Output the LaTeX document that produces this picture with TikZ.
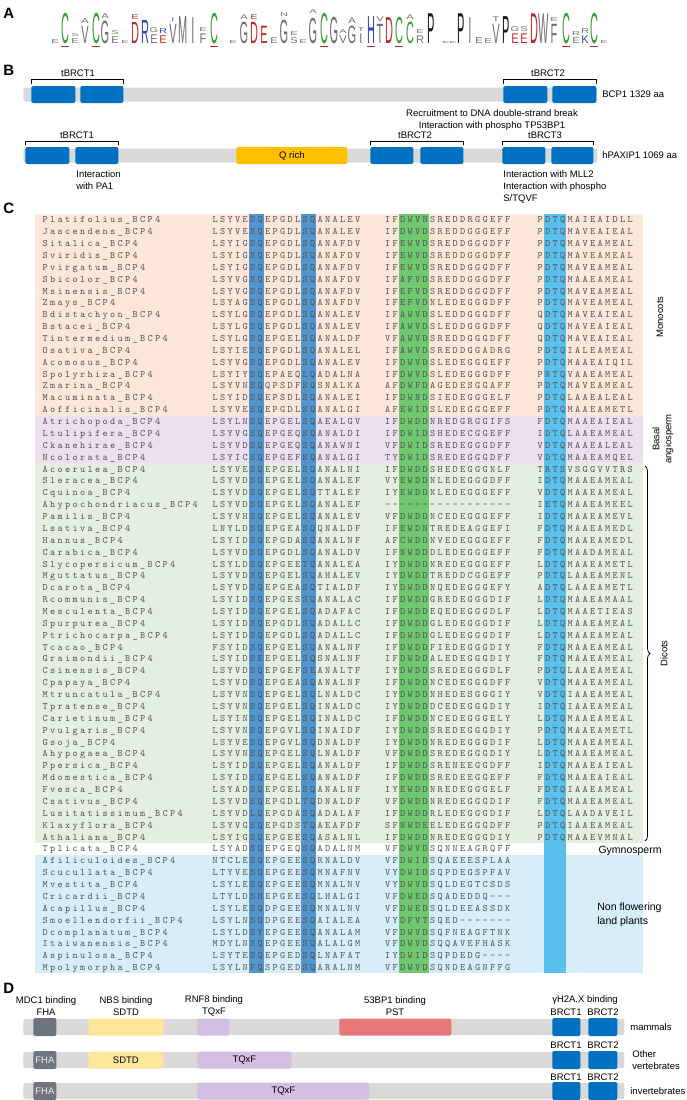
\documentclass[tikz,border=0pt]{standalone}
\usepackage{fontspec}
\newfontfamily\lblfont{Liberation Sans}
\usetikzlibrary{calc,decorations.pathreplacing}

\definecolor{bargray}{RGB}{217,217,217}
\definecolor{brctblue}{RGB}{0,112,192}
\definecolor{qorange}{RGB}{255,192,0}
\definecolor{fhagray}{RGB}{111,117,128}
\definecolor{sdtdyellow}{RGB}{255,230,153}
\definecolor{tqxfpurple}{RGB}{212,190,226}
\definecolor{pstred}{RGB}{232,120,122}
\definecolor{monobg}{RGB}{252,231,218}
\definecolor{basalbg}{RGB}{237,222,240}
\definecolor{dicotbg}{RGB}{229,239,223}
\definecolor{nonflbg}{RGB}{214,238,250}
\definecolor{sqband}{RGB}{82,150,205}
\definecolor{dwband}{RGB}{112,200,112}
\definecolor{dtqband}{RGB}{92,192,236}
\definecolor{seqgray}{RGB}{80,80,80}
\definecolor{lgreen}{RGB}{56,158,56}
\definecolor{lred}{RGB}{200,40,40}
\definecolor{lblue}{RGB}{40,70,190}
\definecolor{lgray}{RGB}{110,110,110}
\definecolor{lblack}{RGB}{25,25,25}

\tikzset{every picture/.style={line width=0.75pt}}
\tikzset{
  lbl/.style={font=\lblfont\fontsize{9.5}{12}\selectfont, inner sep=0pt},
  panel/.style={font=\lblfont\bfseries\fontsize{15}{15}\selectfont, anchor=west, inner sep=0pt},
  bar/.style={fill=bargray, rounded corners=2pt, inner sep=0pt, minimum height=14pt, anchor=west},
  dom/.style={rounded corners=2pt, inner sep=0pt, minimum height=17pt, anchor=west, font=\lblfont\fontsize{9.5}{12}\selectfont},
  brct/.style={dom, fill=brctblue},
  seqtext/.style={anchor=base west, inner sep=0pt, font=\ttfamily\fontsize{9.8}{10}\selectfont, text=seqgray},
  logo/.style={anchor=south, inner sep=0pt, font=\lblfont\fontsize{10}{10}\selectfont}
}

\newlength\seqpitch
\setlength\seqpitch{7.5pt}
\newcommand\seqtxt[1]{\seqloop#1\relax}
\def\seqloop#1{\ifx\relax#1\else\makebox[\seqpitch][c]{#1}\expandafter\seqloop\fi}

% one alignment row: index, species, three blocks
\newcommand\alnrow[5]{%
  \pgfmathsetmacro\alny{219.6+11.87*#1+3.2}%
  \node[seqtext] (nm#1) at (41,\alny) {\seqtxt{#2\_BCP4}};
  \node[seqtext] (sa#1) at (211,\alny) {\seqtxt{#3}};
  \node[seqtext] (sb#1) at (383.5,\alny) {\seqtxt{#4}};
  \node[seqtext] (sc#1) at (536,\alny) {\seqtxt{#5}};
}
% one logo letter: x, base, letter, colour, height
\newcommand\logoch[5]{\node[logo, text=#4] (lg#1x#2) at (#1,#2) {\scalebox{1.1}[\fpeval{#5/7.16}]{#3}};}

\begin{document}
\begin{tikzpicture}[x=1pt,y=1pt,yscale=-1,xscale=1]
\useasboundingbox (0,0) rectangle (687,1100);

%%%%%%%%%% A
\node[panel] (pa) at (3,13) {A};
\logoch{55}{44}{E}{lgray}{4}
\logoch{65}{44}{C}{lgreen}{31}
\logoch{75}{44}{E}{lgray}{5}
\logoch{75}{37}{S}{lgray}{3}
\logoch{85}{44}{V}{lgray}{18}
\logoch{85}{24}{A}{lgray}{5}
\logoch{96}{44}{C}{lgreen}{31}
\logoch{105}{44}{G}{lgray}{23}
\logoch{105}{19}{A}{lgray}{5}
\logoch{115}{44}{E}{lgray}{7}
\logoch{115}{35}{S}{lgreen}{4}
\logoch{125}{44}{E}{lgray}{3}
\logoch{135}{44}{D}{lred}{22}
\logoch{135}{20}{E}{lred}{5}
\logoch{145}{44}{R}{lblue}{24}
\logoch{154}{44}{E}{lgray}{9}
\logoch{154}{33}{G}{lgray}{5}
\logoch{163}{44}{E}{lred}{8}
\logoch{163}{34}{R}{lblue}{5}
\logoch{173}{44}{V}{lgray}{20}
\logoch{173}{22}{I}{lgray}{4}
\logoch{183}{44}{M}{lgray}{28}
\logoch{193}{44}{I}{lgray}{27}
\logoch{203}{44}{F}{lgray}{10}
\logoch{203}{32}{E}{lgray}{4}
\logoch{214}{44}{C}{lgreen}{31}
\logoch{233}{44}{E}{lgray}{3}
\logoch{244}{44}{G}{lgray}{22}
\logoch{244}{20}{A}{lgray}{5}
\logoch{254}{44}{D}{lred}{22}
\logoch{254}{20}{E}{lred}{5}
\logoch{264}{44}{E}{lred}{18}
\logoch{274}{44}{E}{lgray}{6}
\logoch{284}{44}{G}{lgray}{24}
\logoch{284}{17}{N}{lgray}{4}
\logoch{294}{44}{S}{lgray}{6}
\logoch{294}{36}{E}{lgray}{4}
\logoch{303}{44}{E}{lgray}{4}
\logoch{313}{44}{G}{lgray}{26}
\logoch{313}{14}{A}{lgray}{4}
\logoch{324}{44}{C}{lgreen}{31}
\logoch{334}{44}{G}{lgray}{27}
\logoch{343}{44}{V}{lgray}{8}
\logoch{343}{34}{A}{lgray}{4}
\logoch{352}{44}{G}{lgray}{18}
\logoch{352}{24}{A}{lgray}{6}
\logoch{361}{44}{I}{lgray}{10}
\logoch{361}{32}{T}{lgray}{4}
\logoch{371}{44}{H}{lblue}{28}
\logoch{380}{44}{T}{lgray}{20}
\logoch{380}{22}{V}{lgray}{5}
\logoch{389}{44}{D}{lred}{27}
\logoch{399}{44}{C}{lgreen}{27}
\logoch{410}{44}{C}{lgreen}{22}
\logoch{410}{20}{A}{lgray}{5}
\logoch{420}{44}{R}{lgray}{8}
\logoch{420}{34}{E}{lgray}{4}
\logoch{431}{44}{P}{lblack}{31}
\logoch{446}{44}{E}{lgray}{2}
\logoch{453}{44}{E}{lgray}{2}
\logoch{461}{44}{P}{lblack}{31}
\logoch{470}{44}{I}{lgray}{27}
\logoch{479}{44}{E}{lgray}{6}
\logoch{488}{44}{E}{lgray}{5}
\logoch{496}{44}{V}{lgray}{20}
\logoch{496}{22}{T}{lgray}{5}
\logoch{506}{44}{P}{lblack}{28}
\logoch{515}{44}{E}{lred}{10}
\logoch{515}{32}{G}{lgray}{5}
\logoch{524}{44}{E}{lred}{10}
\logoch{524}{32}{S}{lgray}{5}
\logoch{534}{44}{D}{lred}{31}
\logoch{544}{44}{W}{lgray}{31}
\logoch{554}{44}{F}{lgray}{20}
\logoch{554}{22}{E}{lgray}{4}
\logoch{566}{44}{C}{lgreen}{31}
\logoch{576}{44}{E}{lgray}{6}
\logoch{576}{36}{R}{lgray}{4}
\logoch{585}{44}{K}{lblue}{8}
\logoch{585}{34}{R}{lgray}{5}
\logoch{594}{44}{C}{lgreen}{31}
\logoch{604}{44}{E}{lgray}{3}
% zinc finger marks
\foreach \zx in {65,96,214,324,371,399,566,594}
  \fill[lred] (\zx-4,45.5) rectangle (\zx+4,47.2);

%%%%%%%%%% B
\node[panel] (pb) at (3,70) {B};
% BCP1
\node[bar, minimum width=574pt] (bcpbar) at (23,94.5) {};
\node[brct, minimum width=44pt] (bcpa) at (31,94.5) {};
\node[brct, minimum width=43pt] (bcpb) at (80,94.5) {};
\node[brct, minimum width=44pt] (bcpc) at (503,94.5) {};
\node[brct, minimum width=44pt] (bcpd) at (552,94.5) {};
\node[lbl, anchor=west] (bcplbl) at (602,94.5) {BCP1 1329 aa};
\draw ($(bcpa.north west)+(0,-2)$) -- ++(0,-4) -| ($(bcpb.north east)+(0,-2)$);
\draw ($(bcpc.north west)+(0,-2)$) -- ++(0,-4) -| ($(bcpd.north east)+(0,-2)$);
\node[lbl] (bt1) at (78,73) {tBRCT1};
\node[lbl] (bt2) at (548,73) {tBRCT2};
% Text Node
\node[lbl] (rec1) at (492,113) {Recruitment to DNA double-strand break};
\node[lbl] (rec2) at (492,126) {Interaction with phospho TP53BP1};
% hPAXIP1
\node[bar, minimum width=574pt] (pxbar) at (23,155.5) {};
\node[brct, minimum width=44pt] (pxa) at (25,155.5) {};
\node[brct, minimum width=43pt] (pxb) at (75,155.5) {};
\node[dom, fill=qorange, minimum width=111pt] (pxq) at (236,155.5) {Q rich};
\node[brct, minimum width=43pt] (pxc) at (370,155.5) {};
\node[brct, minimum width=43pt] (pxd) at (420,155.5) {};
\node[brct, minimum width=43pt] (pxe) at (502,155.5) {};
\node[brct, minimum width=42pt] (pxf) at (551,155.5) {};
\node[lbl, anchor=west] (pxlbl) at (602,155.5) {hPAXIP1 1069 aa};
\draw ($(pxa.north west)+(0,-1.5)$) -- ++(0,-4) -| ($(pxb.north east)+(0,-1.5)$);
\draw ($(pxc.north west)+(0,-1.5)$) -- ++(0,-4) -| ($(pxd.north east)+(0,-1.5)$);
\draw ($(pxe.north west)+(0,-1.5)$) -- ++(0,-4) -| ($(pxf.north east)+(0,-1.5)$);
\node[lbl] (pt1) at (77,135) {tBRCT1};
\node[lbl] (pt2) at (415,135) {tBRCT2};
\node[lbl] (pt3) at (545,135) {tBRCT3};
% Text Node
\node[lbl, anchor=north west, align=left] (pa1) at (76,170) {Interaction\\with PA1};
\node[lbl, anchor=north west, align=left] (mll) at (503,170) {Interaction with MLL2\\Interaction with phospho\\S/TQVF};

%%%%%%%%%% C
\node[panel] (pc) at (3,208) {C};
% group backgrounds
\fill[monobg] (35,213.7) rectangle (643,415.5);
\fill[basalbg] (35,415.5) rectangle (643,463);
\fill[dicotbg] (35,463) rectangle (643,842.9);
\fill[nonflbg] (35,854.8) rectangle (643,973.3);
% conserved columns
\fill[sqband] (248.5,213.7) rectangle (263.5,973.3);
\fill[sqband] (301,213.7) rectangle (316,973.3);
\fill[dwband] (398.5,213.7) rectangle (428.5,973.3);
\fill[dtqband] (543.5,213.7) rectangle (566,973.3);
% rows
\alnrow{0}{Platifolius}{LSYVESQEPGDLSQANALEV}{IFDWVNSREDDRGGEFF}{PDTQMAIEAIDLL}
\alnrow{1}{Jascendens}{LSYVESQEPGDLSQANALEV}{IFDWVDSREDDGGGEFF}{PDTQMAVEAIEAL}
\alnrow{2}{Sitalica}{LSYIGSQEPGDLSQANAFDV}{IFEWVDSREDDGGGDFF}{PDTQMAVEAMEAL}
\alnrow{3}{Sviridis}{LSYIGSQEPGDLSQANAFDV}{IFEWVDSREDDGGGDFF}{PDTQMAVEAMEAL}
\alnrow{4}{Pvirgatum}{LSYIGSQEPGDLSQANAFDV}{IFEWVDSREDDGGGDFF}{PDTQMAVEAMEAL}
\alnrow{5}{Sbicolor}{LSYVGSQEPGDLSQANAFDV}{IFAFVDSREDDGGGDFF}{PDTQMAAEAMEAL}
\alnrow{6}{Msinensis}{LSYVGSQEPGDLSQANAFDV}{IFEFVDSREDDGGGDFF}{PDTQMAVEAMEAL}
\alnrow{7}{Zmays}{LSYAGSQEPGDLSQANAFDV}{IFEFVDNLEDEGGGDFF}{PDTQMAVEAMEAL}
\alnrow{8}{Bdistachyon}{LSYLGSQEPGDLSQANALEV}{IFAWVDSLEDDGGGDFF}{QDTQMAVEAIEAL}
\alnrow{9}{Bstacei}{LSYLGSQEPGDLSQANALEV}{IFAWVDSLEDDGGGDFF}{QDTQMAVEAIEAL}
\alnrow{10}{Tintermedium}{LSYLGSQEPGELSQANALDF}{VFAWVDSREDDGGGDFF}{QDTQMAVEAIEAL}
\alnrow{11}{Osativa}{LSYIESQEPGDLSQANALEL}{IFAWVDSREDDGGADRG}{PDTQIALEAMEAL}
\alnrow{12}{Acomosus}{LSYVGSQEPGDLSQANALEV}{IFDWVDSLEDEGGGEFF}{PDTQMAAEAIQIL}
\alnrow{13}{Spolyrhiza}{LSYIYSQEPAEQLQADALNA}{IFDWVDSLEDEGGGDFF}{PNTQVAAEAMEAL}
\alnrow{14}{Zmarina}{LSYVNSQQPSDFSQSNALKA}{AFDWFDAGEDESGGAFF}{PDTQMAVEAMEAL}
\alnrow{15}{Macuminata}{LSYIDSQEPSDLSQANALEI}{IFDWNDSIEDEGGGELF}{PDTQLAAEALEAL}
\alnrow{16}{Aofficinalis}{LSYVESQEPGDLSQANALGI}{AFEWIDSLEDEGGGEFF}{PDTQMAAEAMETL}
\alnrow{17}{Atrichopoda}{LSYLNSQEPGELSQAEALGV}{IFDWDDNREDGRGGIFS}{FDTQMAAEAIEAL}
\alnrow{18}{Ltulipifera}{LSYVGSQEPGEQSQANALDI}{IFDWIDSHEDECGGEFF}{IDTQLAAEAMEAL}
\alnrow{19}{Ckanehirae}{LSYVDSQEPGEQSQANAWNI}{VFDWIDSREDEGGGDFF}{VDTQMAAEALEAL}
\alnrow{20}{Ncolorata}{LSYICSQEPGEFSQANALGI}{TYDWIDSREDEGGGDFF}{VDTQMAAEAMQEL}
\alnrow{21}{Acoerulea}{LSYVESQEPGELSQANALNI}{IFDWDDSHEDEGGGNLF}{TRTSVSGGVVTRS}
\alnrow{22}{Sleracea}{LSYVDSQEPGELSQANALEF}{VYEWDDNLEDEGGGDFF}{IDTQMAAEAMEAL}
\alnrow{23}{Cquinoa}{LSYVDSQEPGELSQTTALEF}{IYEWDDNLEDEGGGEFF}{VDTQMAAEAMEAL}
\alnrow{24}{Ahypochondriacus}{LSYVDSQEPGELSQANALEF}{-----------------}{IETQMAAEAMEEL}
\alnrow{25}{Pamilis}{LSYVHSQEPGELSQANALEV}{VFDWDDNCEDEGGGEFF}{IDTQMAAEAMEVL}
\alnrow{26}{Lsativa}{LNYLDSQEPGEASQQNALDF}{IFEWDNTREDEAGGEFI}{FDTQMAAEAMEDL}
\alnrow{27}{Hannus}{LSYIDSQEPGDASQANALNF}{AFCWDDNVEDEGGGEFF}{FDTQMAAEAMEDL}
\alnrow{28}{Carabica}{LSYVDSQEPGDLSQANALDV}{IFNWDDDLEDEGGGEFF}{FDTQMAADAMEAL}
\alnrow{29}{Slycopersicum}{LSYLDSQEPGEETQANALEA}{IYDWDDNREDEGGGEFF}{LDTQMAAEAMETL}
\alnrow{30}{Mguttatus}{LSYVDSQEPGELSQAHALEV}{IYDWDDTREDDCGGEFF}{PDTQLAAEAMENL}
\alnrow{31}{Dcarota}{LSYVDSQEPGEASQTIALDF}{IYDWDDNQEDEGGGEFY}{ADTQLAAEAMETL}
\alnrow{32}{Rcommunis}{LSYIDSQEPGESSQANALAC}{IFDWDDGREDEGGGDIF}{LDTQMAAEAMAAL}
\alnrow{33}{Mesculenta}{LSYIDSQEPGELSQADAFAC}{IFDWDDEQEDEGGGDLF}{LDTQMAAETIEAS}
\alnrow{34}{Spurpurea}{LSYIDSQEPGDLSQADALLC}{IFDWDDGLEDEGGGDIF}{LDTQMAAEAMEAL}
\alnrow{35}{Ptrichocarpa}{LSYIDSQEPGDLSQADALLC}{IFDWDDGLEDEGGGDIF}{LDTQMAAEAMEAL}
\alnrow{36}{Tcacao}{FSYIDSQEPGELSQANALNF}{IFDWDDFIEDEGGGDIY}{FDTQMAAEAMEAL}
\alnrow{37}{Graimondii}{LSYIDSEEPGELSQSNALNF}{IFDWDDALEDEGGGDIY}{FDTQMAAEAMEAL}
\alnrow{38}{Csinensis}{LSYVDSQEPGEFSEANALTF}{IYDWDDSREDEGGGDLF}{PDTQLAAEAMEAL}
\alnrow{39}{Cpapaya}{LSYVDSQEPGEASQANALNF}{IFDWDDNCEDEGGGDFF}{VDTQMAAEAMEAL}
\alnrow{40}{Mtruncatula}{LSYVNSQEPGELSQLNALDC}{IYDWDDNHEDESGGGIY}{VDTQIAAEAMEAL}
\alnrow{41}{Tpratense}{LSYVNSQEPGELSQINALDC}{IYDWDDDCEDEGGGDIY}{IDTQIAAEAMEAL}
\alnrow{42}{Carietinum}{LSYINSQEPGELSQINALDC}{IFDWDDNCEDEGGGELY}{LDTQMAAEAMEAL}
\alnrow{43}{Pvulgaris}{LSYVNSQEPGVLSQINAIDF}{IYDWDDSREDEGGGDIY}{PDTQMAAEAMETL}
\alnrow{44}{Gsoja}{LSYVESQEPGVLSQDNALDF}{IYDWDDNREDEGGGDIF}{LDTQMAAEAMEAL}
\alnrow{45}{Ahypogaea}{LSYVNSQEPGELSQLNALDF}{VFDWDDSREDEGGGDIY}{LDTQMAAEAMEAL}
\alnrow{46}{Ppersica}{LSYIDSQEPGELSQANALDF}{IFDWDDSRENEEGGDFF}{IDTQMAAEAIEAL}
\alnrow{47}{Mdomestica}{LSYIDSQEPGELSQANALDF}{IFDWDDSREDEEGGEFF}{FDTQMAAEAIEAL}
\alnrow{48}{Fvesca}{LSYADSQEPGELSQANALNF}{IYEWDDNREDEGGGELF}{FDTQIAAEAMEAL}
\alnrow{49}{Csativus}{LSYVDSQEPGDLTQDNALDF}{VFDWDDNREDEGGGDIF}{FDTQMAAEAMEAL}
\alnrow{50}{Lusitatissimum}{LSYVDLQEPGDASQADALAF}{IFDWDDRLEDEGGGDIF}{LDTQLAADAVEIL}
\alnrow{51}{Klaxyflora}{LSYVGSQEPGDSTQAEAFDF}{SFNWDEELEDEGGGDFF}{PDTQIAAEAMEAL}
\alnrow{52}{Athaliana}{LSYIGSQEPGEESQASALNL}{IFDWDDNREDEGGGDIY}{PDTQMAAEVMNAL}
\alnrow{53}{Tplicata}{LSYADSQEPGEQSQADALNM}{VFDWVDSQNNEAGRQFF}{}
\alnrow{54}{Afiliculoides}{NTCLESQEPGEESQRNALDV}{VFDWIDSQAEEESPLAA}{}
\alnrow{55}{Scucullata}{LTYVESQEPGEESQMNAFNV}{VYDWIDSQPDEGSPFAV}{}
\alnrow{56}{Mvestita}{LSYLESQEPGEESQMNALNV}{VYDWVDSQLDEGTCSDS}{}
\alnrow{57}{Cricardii}{LTYLDSHEPGEESQLHALGI}{VFDWEDSQADEDDQ---}{}
\alnrow{58}{Acapillus}{LSYLESQDPGEESQMNALNV}{VFDWEDSQLDEEASSDK}{}
\alnrow{59}{Smoellendorfii}{LSYLNSQDPGEESQAIALEA}{VYDFVTSQED-------}{}
\alnrow{60}{Dcomplanatum}{LSYLDSYEPGEESQANALAM}{VFDWVDSQFNEAGFTNK}{}
\alnrow{61}{Itaiwanensis}{MDYLNSQEPGEESQALALGM}{VFDWVDSQQAVEFHASK}{}
\alnrow{62}{Aspinulosa}{LSYTESQEPGEDSQLNAFAT}{IYDWIDSQPDEDG----}{}
\alnrow{63}{Mpolymorpha}{LSYLNFQSPGEDSQARALNM}{VFDWVDSQNDEAGNFFG}{}
% group labels
\node[lbl, rotate=90] (mono) at (660,317) {Monocots};
\node[lbl, rotate=90, align=center] (basal) at (663,439) {Basal\\angiosperm};
\coordinate (dtop) at (645,466);
\coordinate (dbot) at (645,841);
\draw[decorate, decoration={brace, amplitude=5pt}] (dtop) -- (dbot);
\node[lbl, rotate=90] (dicot) at (664,653.5) {Dicots};
\node[lbl, font=\lblfont\fontsize{10.5}{12}\selectfont] (gymno) at (630,851) {Gymnosperm};
\node[lbl, font=\lblfont\fontsize{10.5}{14}\selectfont, anchor=west, align=left] (nonfl) at (597,915) {Non flowering\\land plants};

%%%%%%%%%% D
\node[panel] (pd) at (3,988) {D};
% Text Node
\node[lbl, align=center] (mdc) at (46,1006) {MDC1 binding\\FHA};
\node[lbl, align=center] (nbs) at (126,1006) {NBS binding\\SDTD};
\node[lbl, align=center] (rnf) at (214,1006) {RNF8 binding\\TQxF};
\node[lbl, align=center] (bp53) at (395,1006) {53BP1 binding\\PST};
\node[lbl] (gh2) at (585,1000) {γH2A.X binding};
% mammals
\node[bar, minimum width=601pt, minimum height=16pt] (mbar) at (23,1027) {};
\node[dom, fill=fhagray, minimum width=23pt, minimum height=18pt] (mfha) at (33,1027) {};
\node[dom, fill=sdtdyellow, minimum width=75pt] (msdtd) at (88,1027) {};
\node[dom, fill=tqxfpurple, minimum width=32pt] (mtqxf) at (197,1027) {};
\node[dom, fill=pstred, minimum width=112pt] (mpst) at (339,1027) {};
\node[brct, minimum width=28pt, minimum height=18pt] (mba) at (552,1027) {};
\node[brct, minimum width=29pt, minimum height=18pt] (mbb) at (588,1027) {};
\node[lbl] (mb1) at (566,1012) {BRCT1};
\node[lbl] (mb2) at (603,1012) {BRCT2};
\node[lbl, anchor=west] (mlbl) at (630,1027) {mammals};
% other vertebrates
\node[bar, minimum width=601pt, minimum height=16pt] (vbar) at (23,1060) {};
\node[dom, fill=fhagray, minimum width=23pt, minimum height=18pt, text=white!85!gray] (vfha) at (33,1060) {FHA};
\node[dom, fill=sdtdyellow, minimum width=75pt] (vsdtd) at (88,1060) {SDTD};
\node[dom, fill=tqxfpurple, minimum width=94pt] (vtqxf) at (197,1060) {TQxF};
\node[brct, minimum width=28pt, minimum height=18pt] (vba) at (552,1060) {};
\node[brct, minimum width=29pt, minimum height=18pt] (vbb) at (588,1060) {};
\node[lbl] (vb1) at (566,1045) {BRCT1};
\node[lbl] (vb2) at (603,1045) {BRCT2};
\node[lbl, anchor=west, align=left] (vlbl) at (632,1060) {Other\\vertebrates};
% invertebrates
\node[bar, minimum width=601pt, minimum height=16pt] (ibar) at (23,1091) {};
\node[dom, fill=fhagray, minimum width=23pt, minimum height=18pt, text=white!85!gray] (ifha) at (33,1091) {FHA};
\node[dom, fill=tqxfpurple, minimum width=172pt] (itqxf) at (197,1091) {TQxF};
\node[brct, minimum width=28pt, minimum height=18pt] (iba) at (552,1091) {};
\node[brct, minimum width=29pt, minimum height=18pt] (ibb) at (588,1091) {};
\node[lbl] (ib1) at (566,1077) {BRCT1};
\node[lbl] (ib2) at (603,1077) {BRCT2};
\node[lbl, anchor=west] (ilbl) at (630,1091) {invertebrates};

\end{tikzpicture}
\end{document}
